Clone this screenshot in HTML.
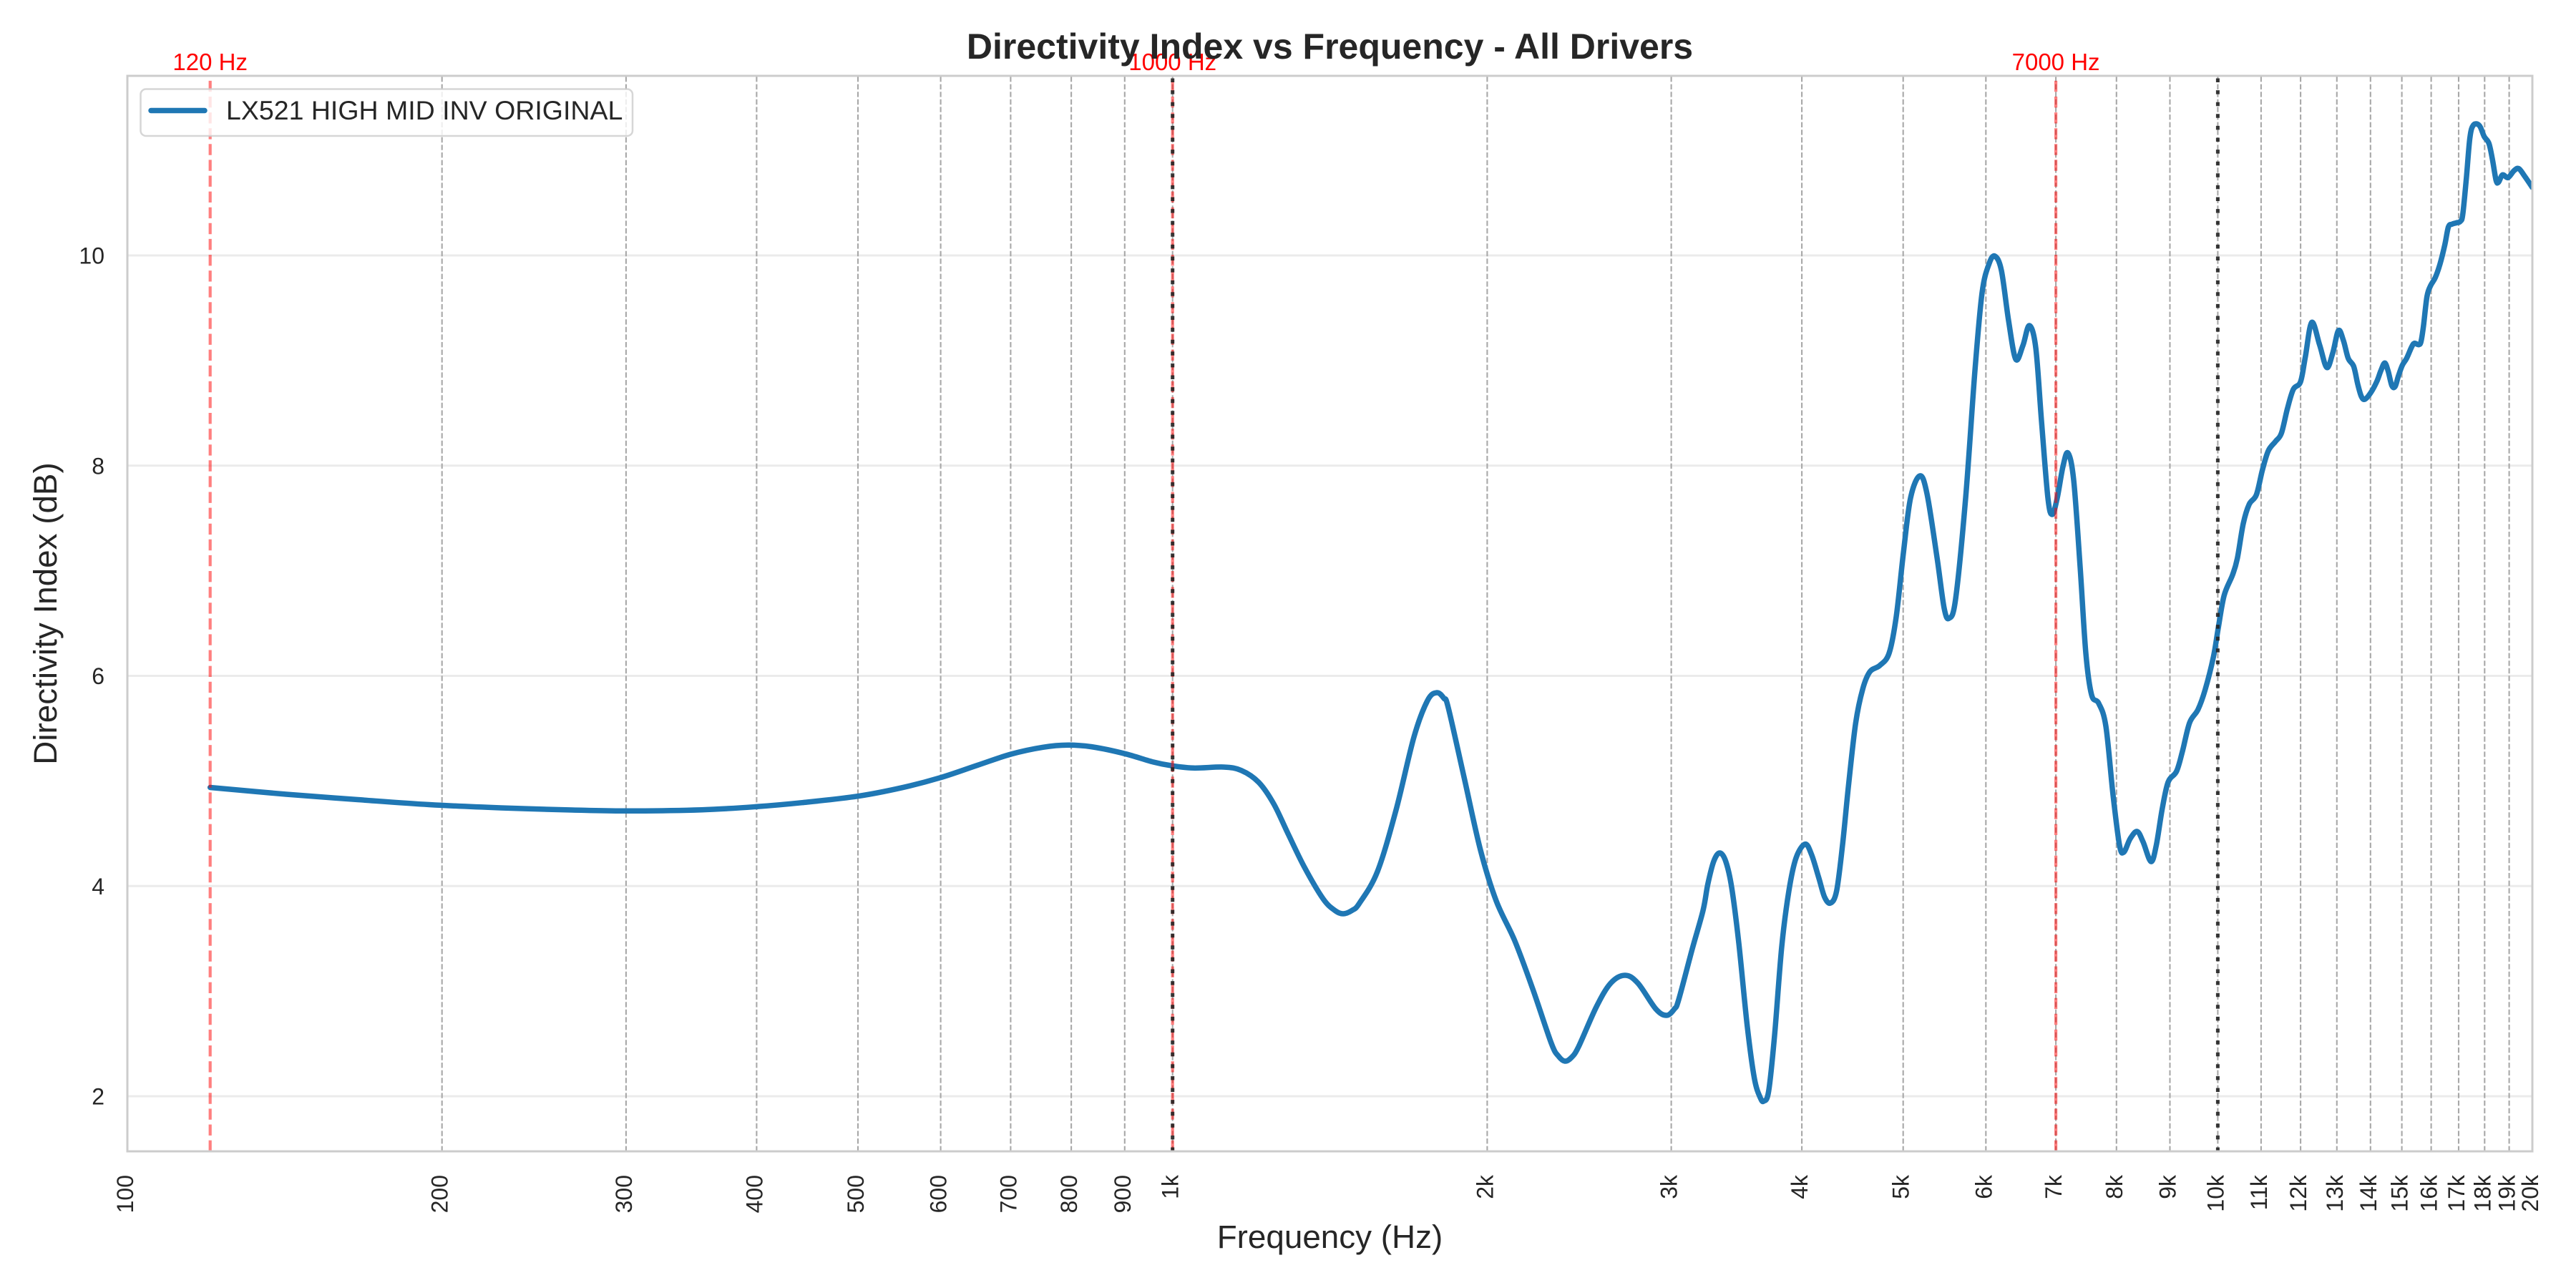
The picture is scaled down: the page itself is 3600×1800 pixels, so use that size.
<!DOCTYPE html>
<html>
<head>
<meta charset="utf-8">
<style>
  html,body{margin:0;padding:0;background:#fff;}
  svg{display:block;}
  text{font-family:"Liberation Sans", Arial, sans-serif; fill:#262626;}
</style>
</head>
<body>
<svg id="chart" width="3600" height="1800" viewBox="0 0 3600 1800" xmlns="http://www.w3.org/2000/svg">
  <rect x="0" y="0" width="3600" height="1800" fill="#ffffff"/>
  <defs>
    <clipPath id="ax"><rect x="178" y="106" width="3361" height="1503"/></clipPath>
  </defs>

  <!-- horizontal grid -->
  <g stroke="#ebebeb" stroke-width="3">
    <line x1="178" y1="357" x2="3539" y2="357"/>
    <line x1="178" y1="650.75" x2="3539" y2="650.75"/>
    <line x1="178" y1="944.5" x2="3539" y2="944.5"/>
    <line x1="178" y1="1238.25" x2="3539" y2="1238.25"/>
    <line x1="178" y1="1532" x2="3539" y2="1532"/>
  </g>

  <!-- vertical gray dashed grid -->
  <g stroke="#a8a8a8" stroke-width="2.1" stroke-dasharray="7.4 3.2">
    <line x1="617.7" y1="1609" x2="617.7" y2="106"/>
    <line x1="874.9" y1="1609" x2="874.9" y2="106"/>
    <line x1="1057.4" y1="1609" x2="1057.4" y2="106"/>
    <line x1="1199.0" y1="1609" x2="1199.0" y2="106"/>
    <line x1="1314.6" y1="1609" x2="1314.6" y2="106"/>
    <line x1="1412.4" y1="1609" x2="1412.4" y2="106"/>
    <line x1="1497.1" y1="1609" x2="1497.1" y2="106"/>
    <line x1="1571.8" y1="1609" x2="1571.8" y2="106"/>
    <line x1="1638.7" y1="1609" x2="1638.7" y2="106"/>
    <line x1="2078.4" y1="1609" x2="2078.4" y2="106"/>
    <line x1="2335.6" y1="1609" x2="2335.6" y2="106"/>
    <line x1="2518.1" y1="1609" x2="2518.1" y2="106"/>
    <line x1="2659.7" y1="1609" x2="2659.7" y2="106"/>
    <line x1="2775.3" y1="1609" x2="2775.3" y2="106"/>
    <line x1="2873.1" y1="1609" x2="2873.1" y2="106"/>
    <line x1="2957.8" y1="1609" x2="2957.8" y2="106"/>
    <line x1="3032.5" y1="1609" x2="3032.5" y2="106"/>
    <line x1="3099.4" y1="1609" x2="3099.4" y2="106"/>
    <line x1="3159.9" y1="1609" x2="3159.9" y2="106"/>
    <line x1="3215.1" y1="1609" x2="3215.1" y2="106"/>
    <line x1="3265.8" y1="1609" x2="3265.8" y2="106"/>
    <line x1="3312.8" y1="1609" x2="3312.8" y2="106"/>
    <line x1="3356.6" y1="1609" x2="3356.6" y2="106"/>
    <line x1="3397.6" y1="1609" x2="3397.6" y2="106"/>
    <line x1="3436.0" y1="1609" x2="3436.0" y2="106"/>
    <line x1="3472.3" y1="1609" x2="3472.3" y2="106"/>
    <line x1="3506.6" y1="1609" x2="3506.6" y2="106"/>
  </g>

  <!-- curve -->
  <g clip-path="url(#ax)">
    <path id="curve" fill="none" stroke="#1f77b4" stroke-width="7.5" stroke-linejoin="round" stroke-linecap="round"
      d="M293.7,1100.5 L400,1110 L500,1117.5 L600,1124.5 L700,1129 L800,1132 L874.7,1133.3 L980.6,1131.7 L1057.8,1127.3 L1121,1121.7 L1198.8,1112.7 L1261,1100.7 L1314.5,1086.7 L1366.4,1069.3 L1412.7,1054 L1457.6,1044.3 L1492.7,1041.3 L1527.8,1044 L1572,1053.3 L1612,1065 L1637,1070 L1668,1073.3 L1710,1072 L1734.7,1076.7 L1759,1093.3 L1780,1123.3 L1800,1165 L1823,1212 L1849,1256 L1865,1272 L1877,1277 L1890,1272 L1900,1262 L1925,1218 L1951,1132 L1976,1030 L1995,979 L2008,968 L2018,976 L2024,989 L2046,1086 L2069,1188 L2091,1259 L2117,1315 L2142,1382 L2168,1458 L2178,1476 L2187,1483 L2196,1478 L2206,1463 L2231,1407 L2251,1374 L2271,1363 L2289,1374 L2314,1410 L2329,1419 L2340,1410 L2346,1397 L2365,1326 L2380,1272.5 L2386.7,1235.7 L2395,1203.6 L2403.3,1192 L2411.7,1203.6 L2420,1240 L2430,1318 L2441.7,1433 L2451.7,1506.7 L2460,1534 L2465,1538.8 L2471.7,1525 L2480,1447 L2490,1323 L2500,1245 L2510,1199 L2522.7,1179.7 L2531.7,1194.4 L2541.7,1226.5 L2550,1254 L2558.3,1262 L2566.7,1245 L2575,1180.6 L2583.3,1098 L2593.3,1010.7 L2603.3,962.5 L2613.3,938.6 L2627,930 L2640,913 L2650,862 L2660,773 L2670,696 L2683,665 L2693,690 L2707,779 L2717,850 L2724,864 L2733,837 L2747,696 L2760,518 L2770,409 L2780,368 L2788,358 L2797,378 L2807,448 L2817,502 L2827,483 L2836,455 L2845,486 L2853,588 L2862,696 L2868,719 L2875,696 L2883,652 L2890,633 L2898,671 L2907,792 L2915,913 L2923,971 L2933,983 L2943,1015 L2953,1111 L2962,1181 L2968,1191 L2977,1172 L2986.7,1162 L2995,1176.6 L3006,1204 L3013.3,1182 L3021.7,1130.6 L3030,1093 L3041.7,1078 L3050,1050 L3060,1010 L3071.7,991.7 L3081.7,964 L3093.3,918 L3100,878 L3108.3,832 L3120,803.5 L3126.7,780.5 L3135,731.7 L3143.3,704.7 L3153.3,691.5 L3161.7,657 L3170,630 L3180,617 L3188.3,605.4 L3196.7,571 L3205,544 L3215,533.7 L3221.7,499 L3230.7,450.5 L3241.7,482 L3251.7,513.6 L3260,493.5 L3268,462 L3275,476 L3281.7,500.8 L3289.3,512 L3295,537 L3300,554 L3305,558 L3313.3,548.6 L3321.7,533 L3327.3,518 L3332.7,507.3 L3337.3,518 L3342.7,539 L3347.3,540 L3351.7,525.7 L3357.3,510.4 L3363.3,500.8 L3370,485.5 L3374,479.7 L3380,481.7 L3383.3,477.8 L3386.7,456.8 L3391.7,414.7 L3396.7,399.4 L3403.3,388 L3410,368.8 L3416.7,342 L3421.7,317 L3426.7,313.3 L3432.7,311.4 L3438.3,309.4 L3441.7,300 L3446.7,250 L3451.7,192.7 L3456.7,174.7 L3465,175.5 L3471.7,190.8 L3478.3,200.4 L3483.3,223.3 L3488.3,252 L3491.7,254.7 L3497.3,244.4 L3505,248.2 L3513.3,238.6 L3520,235.6 L3528.3,246.3 L3539,262"/>
  </g>

  <!-- red reference lines -->
  <g stroke="#ff0000" stroke-opacity="0.5" stroke-width="4.2" stroke-dasharray="15.4 6.7">
    <line x1="293.7" y1="1609" x2="293.7" y2="106"/>
    <line x1="1638.7" y1="1609" x2="1638.7" y2="106"/>
    <line x1="2873.1" y1="1609" x2="2873.1" y2="106"/>
  </g>
  <!-- black dotted lines -->
  <g stroke="#222222" stroke-opacity="0.9" stroke-width="5" stroke-dasharray="5.5 11.1">
    <line x1="1638.7" y1="1609" x2="1638.7" y2="106"/>
    <line x1="3099.4" y1="1609" x2="3099.4" y2="106"/>
  </g>

  <!-- spines -->
  <rect x="178" y="106" width="3361" height="1503" fill="none" stroke="#cccccc" stroke-width="3"/>

  <!-- red labels -->
  <g font-size="33" text-anchor="middle">
    <text x="293.7" y="98" style="fill:#ff0000">120 Hz</text>
    <text x="1638.7" y="98" style="fill:#ff0000">1000 Hz</text>
    <text x="2873.1" y="98" style="fill:#ff0000">7000 Hz</text>
  </g>

  <!-- title -->
  <text x="1858.5" y="82" font-size="50" font-weight="bold" text-anchor="middle">Directivity Index vs Frequency - All Drivers</text>

  <!-- y tick labels -->
  <g font-size="32" text-anchor="end">
    <text x="146" y="368.5">10</text>
    <text x="146" y="662.25">8</text>
    <text x="146" y="956">6</text>
    <text x="146" y="1249.75">4</text>
    <text x="146" y="1543.5">2</text>
  </g>

  <!-- x tick labels -->
  <g font-size="32" text-anchor="end">
    <text transform="translate(178 1642) rotate(-90)" y="8">100</text>
    <text transform="translate(617.7 1642) rotate(-90)" y="8">200</text>
    <text transform="translate(874.9 1642) rotate(-90)" y="8">300</text>
    <text transform="translate(1057.4 1642) rotate(-90)" y="8">400</text>
    <text transform="translate(1199.0 1642) rotate(-90)" y="8">500</text>
    <text transform="translate(1314.6 1642) rotate(-90)" y="8">600</text>
    <text transform="translate(1412.4 1642) rotate(-90)" y="8">700</text>
    <text transform="translate(1497.1 1642) rotate(-90)" y="8">800</text>
    <text transform="translate(1571.8 1642) rotate(-90)" y="8">900</text>
    <text transform="translate(1638.7 1642) rotate(-90)" y="8">1k</text>
    <text transform="translate(2078.4 1642) rotate(-90)" y="8">2k</text>
    <text transform="translate(2335.6 1642) rotate(-90)" y="8">3k</text>
    <text transform="translate(2518.1 1642) rotate(-90)" y="8">4k</text>
    <text transform="translate(2659.7 1642) rotate(-90)" y="8">5k</text>
    <text transform="translate(2775.3 1642) rotate(-90)" y="8">6k</text>
    <text transform="translate(2873.1 1642) rotate(-90)" y="8">7k</text>
    <text transform="translate(2957.8 1642) rotate(-90)" y="8">8k</text>
    <text transform="translate(3032.5 1642) rotate(-90)" y="8">9k</text>
    <text transform="translate(3099.4 1642) rotate(-90)" y="8">10k</text>
    <text transform="translate(3159.9 1642) rotate(-90)" y="8">11k</text>
    <text transform="translate(3215.1 1642) rotate(-90)" y="8">12k</text>
    <text transform="translate(3265.8 1642) rotate(-90)" y="8">13k</text>
    <text transform="translate(3312.8 1642) rotate(-90)" y="8">14k</text>
    <text transform="translate(3356.6 1642) rotate(-90)" y="8">15k</text>
    <text transform="translate(3397.6 1642) rotate(-90)" y="8">16k</text>
    <text transform="translate(3436.0 1642) rotate(-90)" y="8">17k</text>
    <text transform="translate(3472.3 1642) rotate(-90)" y="8">18k</text>
    <text transform="translate(3506.6 1642) rotate(-90)" y="8">19k</text>
    <text transform="translate(3539.1 1642) rotate(-90)" y="8">20k</text>
  </g>

  <!-- axis labels -->
  <text x="1858.5" y="1744" font-size="45.8" text-anchor="middle">Frequency (Hz)</text>
  <text transform="translate(79 857.5) rotate(-90)" font-size="45.8" text-anchor="middle">Directivity Index (dB)</text>

  <!-- legend -->
  <rect x="196.5" y="124.5" width="687.5" height="65.5" rx="7.5" ry="7.5" fill="#ffffff" fill-opacity="0.8" stroke="#cccccc" stroke-opacity="0.8" stroke-width="2.5"/>
  <line x1="211" y1="154.5" x2="286" y2="154.5" stroke="#1f77b4" stroke-width="7.5" stroke-linecap="round"/>
  <text x="316" y="167" font-size="37.5">LX521 HIGH MID INV ORIGINAL</text>
</svg>
<script>
(function(){
  var p=document.getElementById('curve');
  if(!p) return;
  var nums=p.getAttribute('d').match(/-?\d+(\.\d+)?/g).map(Number);
  var pts=[];
  for(var i=0;i<nums.length;i+=2) pts.push([nums[i],nums[i+1]]);
  var n=pts.length;
  var d='M'+pts[0][0]+','+pts[0][1];
  for(var i=0;i<n-1;i++){
    var p0=pts[Math.max(i-1,0)],p1=pts[i],p2=pts[i+1],p3=pts[Math.min(i+2,n-1)];
    var c1x=p1[0]+(p2[0]-p0[0])/6,c1y=p1[1]+(p2[1]-p0[1])/6;
    var c2x=p2[0]-(p3[0]-p1[0])/6,c2y=p2[1]-(p3[1]-p1[1])/6;
    d+=' C'+c1x.toFixed(2)+','+c1y.toFixed(2)+' '+c2x.toFixed(2)+','+c2y.toFixed(2)+' '+p2[0]+','+p2[1];
  }
  p.setAttribute('d',d);
})();
</script>
</body>
</html>
